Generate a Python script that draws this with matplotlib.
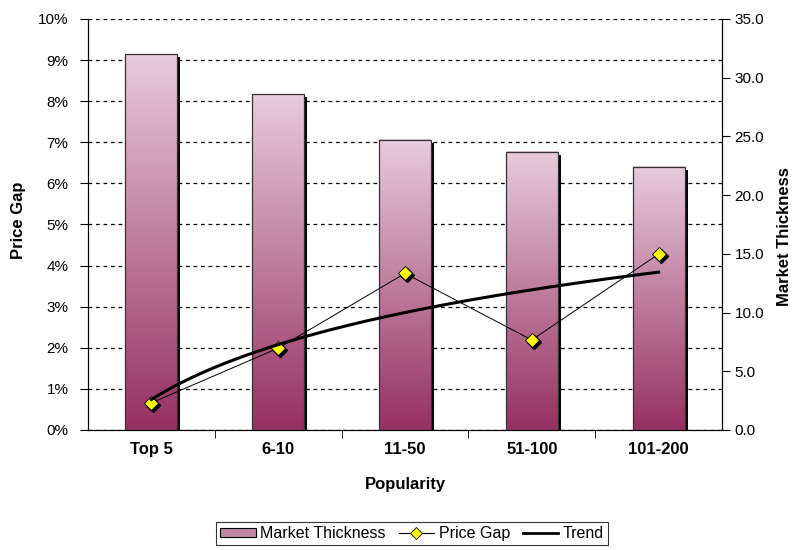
import numpy as np
import matplotlib
matplotlib.use("Agg")
import matplotlib.pyplot as plt
from matplotlib.colors import LinearSegmentedColormap
from matplotlib.patches import Rectangle, Patch
from matplotlib.lines import Line2D
from matplotlib.transforms import ScaledTranslation
from matplotlib.ticker import FuncFormatter

# --------------------------------------------------------------------------- #
#  Data
# --------------------------------------------------------------------------- #
categories = ["Top 5", "6-10", "11-50", "51-100", "101-200"]
market_thickness = [32.0, 28.6, 24.7, 23.7, 22.4]     # right axis
price_gap = [0.0066, 0.0199, 0.0381, 0.0219, 0.0428]  # left axis (fraction)

plt.rcParams["font.family"] = ["Liberation Sans", "DejaVu Sans"]
plt.rcParams["font.size"] = 11

BAR_TOP = "#E8CBDB"
BAR_BOT = "#963062"
cmap = LinearSegmentedColormap.from_list("plum", [BAR_BOT, BAR_TOP])

fig = plt.figure(figsize=(7.94, 5.5), dpi=100)
ax = fig.add_axes([0.1108, 0.2182, 0.7985, 0.7473])
ax2 = ax.twinx()   # bars (Market Thickness)
ax3 = ax.twinx()   # lines (Price Gap + trend), drawn on top

x = np.arange(len(categories))
width = 0.41

# left axis: grid + ticks
ax.set_xlim(-0.5, len(categories) - 0.5)
ax.set_ylim(0, 0.10)
ax.set_yticks(np.arange(0, 0.101, 0.01))
ax.yaxis.set_major_formatter(FuncFormatter(lambda v, _: f"{v*100:.0f}%"))
ax.grid(axis="y", color="black", linestyle=(0, (3, 3)), linewidth=0.9)
ax.set_axisbelow(True)
ax.spines["top"].set_visible(False)
ax.set_ylabel("Price Gap", fontweight="bold", fontsize=12)
ax.yaxis.set_label_coords(-0.097, 0.51)
ax.set_xticks(x)
ax.set_xticklabels(categories, fontweight="bold", fontsize=12)
ax.set_xticks(np.arange(0.5, len(categories) - 0.5, 1), minor=True)
ax.tick_params(axis="x", which="major", length=0, pad=9)
ax.tick_params(axis="x", which="minor", length=6, direction="out")
ax.tick_params(axis="y", length=6, direction="out", pad=8)
ax.set_xlabel("Popularity", fontweight="bold", fontsize=12, labelpad=14)

# bars with vertical gradient and drop shadow
shadow_off = ScaledTranslation(3 / 100, -3 / 100, fig.dpi_scale_trans)
grad = np.linspace(0, 1, 256).reshape(-1, 1)
for xi, h in zip(x, market_thickness):
    x0 = xi - width / 2
    ax2.add_patch(Rectangle((x0, 0), width, h, facecolor="black",
                            edgecolor="none", zorder=1,
                            transform=ax2.transData + shadow_off))
    ax2.imshow(grad, cmap=cmap, origin="lower", aspect="auto",
               extent=[x0, x0 + width, 0, h], zorder=2,
               interpolation="bilinear")
    ax2.add_patch(Rectangle((x0, 0), width, h, facecolor="none",
                            edgecolor="#333333", linewidth=0.9, zorder=3))
ax2.set_xlim(-0.5, len(categories) - 0.5)
ax2.set_ylim(0, 35)
ax2.set_yticks(np.arange(0, 35.1, 5))
ax2.yaxis.set_major_formatter(FuncFormatter(lambda v, _: f"{v:.1f}"))
ax2.tick_params(axis="y", length=6, direction="out", pad=3)
ax2.spines["top"].set_visible(False)
ax2.set_ylabel("Market Thickness", fontweight="bold", fontsize=12)
ax2.yaxis.set_label_coords(1.087, 0.47)

# price gap line + logarithmic trend (Excel-style fit on category index)
ax3.set_xlim(-0.5, len(categories) - 0.5)
ax3.set_ylim(0, 0.10)
ax3.axis("off")
mk_off = ScaledTranslation(2 / 100, -2 / 100, fig.dpi_scale_trans)
ax3.plot(x, price_gap, linestyle="none", marker="D", markersize=7,
         color="black", transform=ax3.transData + mk_off, zorder=3)
ax3.plot(x, price_gap, color="black", linewidth=0.7, marker="D",
         markersize=7, markerfacecolor="#FFFF00", markeredgecolor="black",
         markeredgewidth=0.6, zorder=4)

idx = x + 1
coef = np.polyfit(np.log(idx), price_gap, 1)
xt = np.linspace(1, len(categories), 200)
ax3.plot(xt - 1, coef[0] * np.log(xt) + coef[1], color="black",
         linewidth=2.2, zorder=5)

handles = [
    Patch(facecolor="#BE88A5", edgecolor="black", linewidth=0.8),
    Line2D([], [], color="black", linewidth=0.8, marker="D", markersize=6,
           markerfacecolor="#FFFF00", markeredgecolor="black",
           markeredgewidth=0.6),
    Line2D([], [], color="black", linewidth=2),
]
leg = fig.legend(handles, ["Market Thickness", "Price Gap", "Trend"],
                 loc="center", bbox_to_anchor=(0.519, 0.030), ncol=3,
                 frameon=True, fancybox=False, handlelength=2.2,
                 handleheight=0.5, handletextpad=0.3, columnspacing=0.8,
                 borderpad=0.25, fontsize=11.5)
leg.get_frame().set_edgecolor("black")
leg.get_frame().set_linewidth(0.8)

fig.savefig("out.png", dpi=100)
